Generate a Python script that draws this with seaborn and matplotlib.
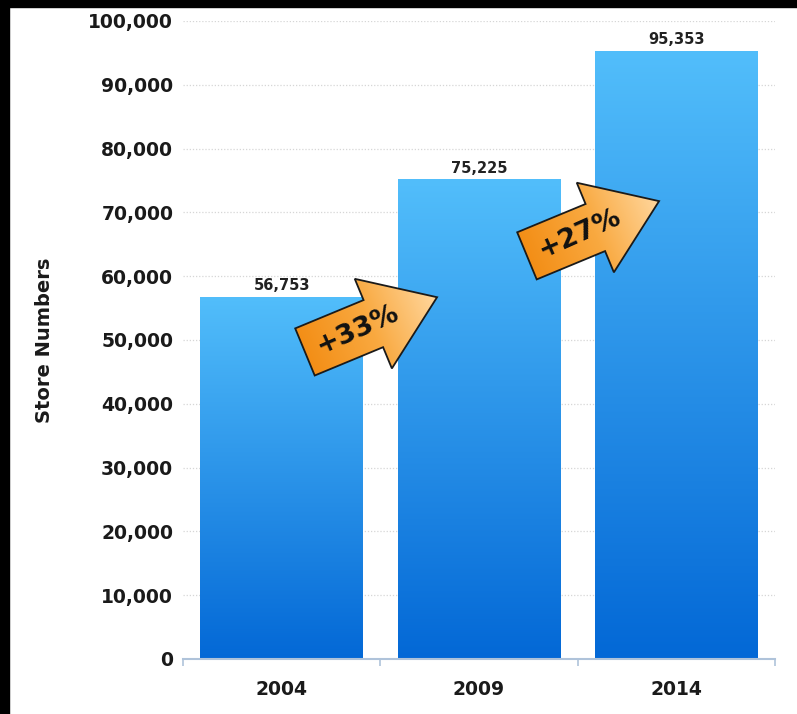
import numpy as np
import matplotlib
matplotlib.use("Agg")
import matplotlib.pyplot as plt
import seaborn as sns
import pandas as pd
from matplotlib.patches import Polygon, Rectangle
from matplotlib.colors import LinearSegmentedColormap

# ---- data ----
years = ["2004", "2009", "2014"]
stores = [56753, 75225, 95353]
growth_labels = ["+33%", "+27%"]
y_ticks = list(range(0, 100001, 10000))
y_label = "Store Numbers"

sns.set_style("white")
plt.rcParams['font.family'] = ['DejaVu Sans']

W, H = 797, 714
fig = plt.figure(figsize=(W / 100, H / 100), dpi=100)
fig.patch.set_facecolor('white')
ax = fig.add_axes([183 / W, 55 / H, 592 / W, 638 / H])

df = pd.DataFrame({"year": years, "stores": stores})
sns.barplot(data=df, x="year", y="stores", ax=ax, width=0.826,
            color="#2a8de0", saturation=1)
ax.set_xlim(-0.5, 2.5)
ax.set_ylim(0, 100000)
ax.set_autoscale_on(False)

# gradient bars
bar_cmap = LinearSegmentedColormap.from_list("bar", ["#0368D6", "#52BEFB"])
grad = np.linspace(0, 1, 256).reshape(-1, 1)
bars = list(ax.patches)
for p in bars:
    x0, y0 = p.get_x(), p.get_y()
    w, h = p.get_width(), p.get_height()
    im = ax.imshow(grad, cmap=bar_cmap, origin='lower', aspect='auto',
                   extent=[x0, x0 + w, y0, y0 + h], zorder=2,
                   interpolation='bilinear')
    im.set_clip_path(p)
    p.set_facecolor('none')
    p.set_edgecolor('none')

# value labels
for i, v in enumerate(stores):
    ax.annotate(f"{v:,}", (i, v), xytext=(0, 2.5), textcoords='offset points',
                ha='center', va='bottom', fontsize=10.5, fontweight='bold',
                color='#222222', zorder=6)

# growth arrows (annotation layout in pixels)
L, head_l, shaft_hw, head_hw = 143, 69, 25.5, 48.5
shape = np.array([[0, -shaft_hw], [L - head_l, -shaft_hw], [L - head_l, -head_hw],
                  [L, 0], [L - head_l, head_hw], [L - head_l, shaft_hw],
                  [0, shaft_hw]])
ang = np.deg2rad(22.5)
R = np.array([[np.cos(ang), -np.sin(ang)], [np.sin(ang), np.cos(ang)]])
arrow_cmap = LinearSegmentedColormap.from_list(
    "arr", ["#F38E16", "#F9A940", "#FFD69C"])
arrow_dx = [0.118, 0.243]
arrow_fy = [0.848, 0.840]
inv = ax.transData.inverted()
for i, lab in enumerate(growth_labels):
    tail_px = ax.transData.transform((i + arrow_dx[i], stores[i] * arrow_fy[i]))
    verts_px = shape @ R.T + tail_px
    verts_data = inv.transform(verts_px)
    poly = Polygon(verts_data, closed=True, facecolor='none',
                   edgecolor='#1a1a1a', lw=1.3, zorder=5, joinstyle='miter')
    ax.add_patch(poly)
    xmin, ymin = verts_px.min(0)
    xmax, ymax = verts_px.max(0)
    nx, ny = int(xmax - xmin) + 2, int(ymax - ymin) + 2
    gx, gy = np.meshgrid(np.linspace(xmin, xmax, nx), np.linspace(ymin, ymax, ny))
    proj = ((gx - tail_px[0]) * np.cos(ang) + (gy - tail_px[1]) * np.sin(ang)) / L
    d0 = inv.transform((xmin, ymin))
    d1 = inv.transform((xmax, ymax))
    im = ax.imshow(proj, cmap=arrow_cmap, vmin=0, vmax=1, origin='lower',
                   extent=[d0[0], d1[0], d0[1], d1[1]], aspect='auto',
                   zorder=4, interpolation='bilinear')
    im.set_clip_path(poly)
    txt_px = tail_px + 57 * np.array([np.cos(ang), np.sin(ang)])
    txt_d = inv.transform(txt_px)
    ax.text(txt_d[0], txt_d[1], lab, rotation=24, rotation_mode='anchor',
            ha='center', va='center', fontsize=19.5, fontweight='bold',
            color='#111111', zorder=6)

ax.set_xlim(-0.5, 2.5)
ax.set_ylim(0, 100000)

# axes styling
for s in ['top', 'right', 'left']:
    ax.spines[s].set_visible(False)
ax.spines['bottom'].set_color('#AFC3DA')
ax.spines['bottom'].set_linewidth(1.5)
ax.spines['bottom'].set_zorder(3)

ax.set_yticks(y_ticks)
ax.set_yticklabels([f"{v:,}" for v in y_ticks], fontsize=13.5,
                   fontweight='bold', color='#1a1a1a')
ax.tick_params(axis='y', length=0, pad=7)

ax.set_xticks(range(len(years)))
ax.set_xticklabels(years, fontsize=13.5, fontweight='bold', color='#1a1a1a')
ax.set_xticks([-0.5, 0.5, 1.5, 2.5], minor=True)
ax.tick_params(axis='x', which='major', length=0, pad=15)
ax.tick_params(axis='x', which='minor', bottom=True, length=5, width=1.2,
               color='#AFC3DA', direction='out')

ax.yaxis.grid(True, linestyle=(0, (1, 1.5)), color='#d6d6d6', linewidth=0.9)
ax.xaxis.grid(False)
ax.set_axisbelow(True)

ax.set_xlabel('')
ax.set_ylabel(y_label, fontsize=14, fontweight='bold', color='#1a1a1a')
ax.yaxis.set_label_coords(-0.218, 0.5)

# black frame strips
fig.add_artist(Rectangle((0, 0), 9 / W, 1, transform=fig.transFigure,
                         color='black', zorder=10))
fig.add_artist(Rectangle((0, 1 - 7 / H), 1, 7 / H, transform=fig.transFigure,
                         color='black', zorder=10))

fig.savefig("out.png", dpi=100)
